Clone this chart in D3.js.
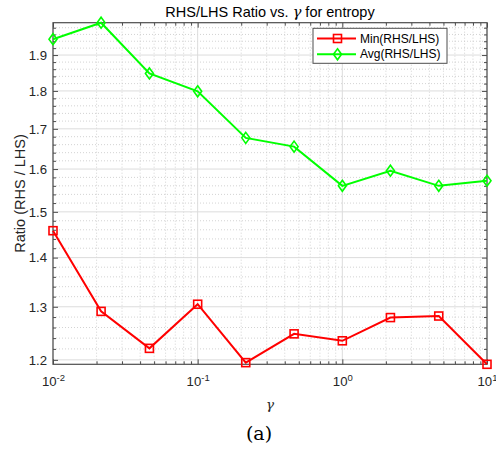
<!DOCTYPE html>
<html><head><meta charset="utf-8">
<script src="https://cdn.jsdelivr.net/npm/d3@7/dist/d3.min.js"></script>
<style>
html,body{margin:0;padding:0;background:#fff;}
text{font-family:"Liberation Sans",Arial,Helvetica,sans-serif;}
</style></head>
<body><svg id="chart" width="496" height="454"></svg>
<script>
const gammas   = [0.01, 0.0215, 0.0464, 0.1, 0.215, 0.464, 1, 2.15, 4.64, 10];
const minRatio = [1.458, 1.291, 1.221, 1.305, 1.195, 1.248, 1.235, 1.279, 1.282, 1.192];
const avgRatio = [1.946, 1.995, 1.848, 1.799, 1.677, 1.655, 1.560, 1.596, 1.560, 1.572];
const yTicks = [1.2, 1.3, 1.4, 1.5, 1.6, 1.7, 1.8, 1.9];
const xTicks = [0.01, 0.1, 1, 10];
const xTickExp = ["-2", "-1", "0", "1"];
const seriesNames = ["Min(RHS/LHS)", "Avg(RHS/LHS)"];
const seriesColors = ["#ff0000", "#00ff00"];

const svg = d3.select("#chart");
const L = 53, R = 487, T = 22.7, B = 364.3;

const yMin = d3.min(minRatio), yMax = d3.max(avgRatio);
const x = d3.scaleLog().domain([0.01, 10]).range([L, R]);
const y = d3.scaleLog().domain([yMin, yMax]).range([B, T]);

// minor tick values
const xMinor = [];
[-2, -1, 0].forEach(e => { for (let k = 2; k <= 9; k++) xMinor.push(k * Math.pow(10, e)); });
const yMinor = [];
for (let v = 1.2; v < yMax; v += 0.02) {
  const r = Math.round(v * 100) / 100;
  if (Math.round(r * 100) % 10 !== 0 && r > yMin && r < yMax) yMinor.push(r);
}

// grid
const grid = svg.append("g");
grid.selectAll(".xminor").data(xMinor).join("line")
  .attr("x1", d => x(d)).attr("x2", d => x(d)).attr("y1", T).attr("y2", B)
  .attr("stroke", "#c8c8c8").attr("stroke-width", 0.8).attr("stroke-dasharray", "1,2");
grid.selectAll(".yminor").data(yMinor).join("line")
  .attr("y1", d => y(d)).attr("y2", d => y(d)).attr("x1", L).attr("x2", R)
  .attr("stroke", "#c8c8c8").attr("stroke-width", 0.8).attr("stroke-dasharray", "1,2");
grid.selectAll(".xmajor").data(xTicks).join("line")
  .attr("x1", d => x(d)).attr("x2", d => x(d)).attr("y1", T).attr("y2", B)
  .attr("stroke", "#dcdcdc").attr("stroke-width", 1);
grid.selectAll(".ymajor").data(yTicks).join("line")
  .attr("y1", d => y(d)).attr("y2", d => y(d)).attr("x1", L).attr("x2", R)
  .attr("stroke", "#dcdcdc").attr("stroke-width", 1);

// axes
const axCol = "#4d4d4d";
function styleAxis(g) {
  g.select(".domain").remove();
  g.selectAll("line").attr("stroke", axCol);
  g.selectAll("text").attr("fill", "#262626").style("font-size", "13.2px");
}
svg.append("g").attr("transform", `translate(0,${B})`)
  .call(d3.axisBottom(x).tickValues(xTicks).tickSize(-5).tickPadding(12).tickFormat(() => ""))
  .call(styleAxis)
  .selectAll(".tick text").each(function(d, i) {
    const t = d3.select(this).attr("dy", "0.71em");
    t.append("tspan").text("10");
    t.append("tspan").attr("dy", "-0.45em").style("font-size", "9.5px").text(xTickExp[i]);
  });
svg.append("g").attr("transform", `translate(0,${B})`)
  .call(d3.axisBottom(x).tickValues(xMinor).tickSize(-3).tickFormat(() => "")).call(styleAxis);
svg.append("g").attr("transform", `translate(0,${T})`)
  .call(d3.axisTop(x).tickValues(xTicks).tickSize(-5).tickFormat(() => "")).call(styleAxis);
svg.append("g").attr("transform", `translate(0,${T})`)
  .call(d3.axisTop(x).tickValues(xMinor).tickSize(-3).tickFormat(() => "")).call(styleAxis);

svg.append("g").attr("transform", `translate(${L},0)`)
  .call(d3.axisLeft(y).tickValues(yTicks).tickSize(-5).tickPadding(6).tickFormat(d3.format(".1f")))
  .call(styleAxis);
svg.append("g").attr("transform", `translate(${L},0)`)
  .call(d3.axisLeft(y).tickValues(yMinor).tickSize(-3).tickFormat(() => "")).call(styleAxis);
svg.append("g").attr("transform", `translate(${R},0)`)
  .call(d3.axisRight(y).tickValues(yTicks).tickSize(-5).tickFormat(() => "")).call(styleAxis);
svg.append("g").attr("transform", `translate(${R},0)`)
  .call(d3.axisRight(y).tickValues(yMinor).tickSize(-3).tickFormat(() => "")).call(styleAxis);

// box
svg.append("rect").attr("x", L).attr("y", T).attr("width", R - L).attr("height", B - T)
  .attr("fill", "none").attr("stroke", axCol).attr("stroke-width", 1.2);

// series
const line = d3.line().x(d => x(d[0])).y(d => y(d[1]));
const series = [minRatio, avgRatio];
function marker(g, kind, color) {
  if (kind === 0) {
    g.append("rect").attr("x", -4).attr("y", -4).attr("width", 8).attr("height", 8)
      .attr("fill", "none").attr("stroke", color).attr("stroke-width", 1.6);
  } else {
    g.append("path").attr("d", "M0,-5.5L4,0L0,5.5L-4,0Z")
      .attr("fill", "none").attr("stroke", color).attr("stroke-width", 1.6);
  }
}
series.forEach((vals, si) => {
  const pts = gammas.map((g, i) => [g, vals[i]]);
  svg.append("path").datum(pts).attr("d", line).attr("fill", "none")
    .attr("stroke", seriesColors[si]).attr("stroke-width", 2);
  pts.forEach(p => {
    const g = svg.append("g").attr("transform", `translate(${x(p[0])},${y(p[1])})`);
    marker(g, si, seriesColors[si]);
  });
});

// legend
const lg = svg.append("g").attr("transform", "translate(313,28.3)");
lg.append("rect").attr("width", 134).attr("height", 35).attr("fill", "#fff")
  .attr("stroke", axCol).attr("stroke-width", 1);
seriesNames.forEach((n, i) => {
  const yy = 10.2 + i * 15.8;
  lg.append("line").attr("x1", 4).attr("x2", 43).attr("y1", yy).attr("y2", yy)
    .attr("stroke", seriesColors[i]).attr("stroke-width", 2);
  const g = lg.append("g").attr("transform", `translate(24.5,${yy})`);
  marker(g, i, seriesColors[i]);
  lg.append("text").attr("x", 47).attr("y", yy).attr("dy", "0.35em")
    .style("font-size", "12px").attr("fill", "#000").text(n);
});

// titles
const title = svg.append("text").attr("x", (L + R) / 2).attr("y", 17.3).attr("text-anchor", "middle")
  .style("font-size", "14.5px").attr("fill", "#000");
title.append("tspan").text("RHS/LHS Ratio vs. ");
title.append("tspan").style("font-family", "'DejaVu Serif','Liberation Serif',serif").style("font-style", "italic").text("γ");
title.append("tspan").text(" for entropy");

svg.append("text").attr("x", (L + R) / 2).attr("y", 409).attr("text-anchor", "middle")
  .style("font-family", "'DejaVu Serif','Liberation Serif',serif").style("font-style", "italic")
  .style("font-size", "13.5px").attr("fill", "#262626").text("γ");

svg.append("text").attr("transform", `translate(24.5,${(T + B) / 2}) rotate(-90)`)
  .attr("text-anchor", "middle").style("font-size", "14.5px").attr("fill", "#262626")
  .text("Ratio (RHS / LHS)");

svg.append("text").attr("x", 259).attr("y", 440).attr("text-anchor", "middle")
  .style("font-family", "'DejaVu Serif','Liberation Serif',serif")
  .style("font-size", "19px").attr("fill", "#000").text("(a)");
</script></body></html>
